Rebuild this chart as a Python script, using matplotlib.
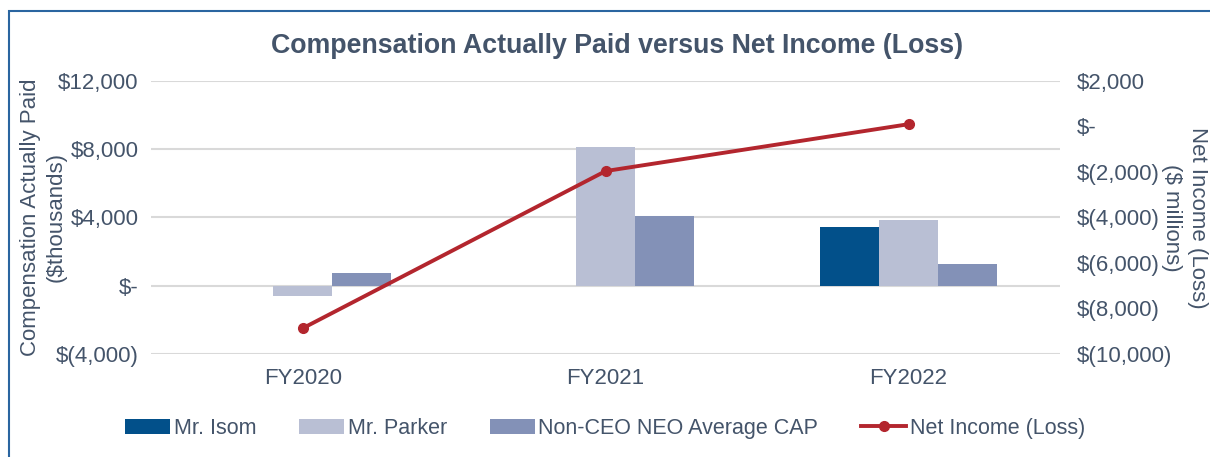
import numpy as np
import matplotlib
matplotlib.use("Agg")
import matplotlib.pyplot as plt
from matplotlib.patches import Rectangle
from matplotlib.ticker import FuncFormatter

plt.rcParams["font.family"] = ["Liberation Sans", "DejaVu Sans"]

# data
years = ["FY2020", "FY2021", "FY2022"]
isom = [np.nan, np.nan, 3470]          # $ thousands
parker = [-620, 8150, 3850]             # $ thousands
neo_avg = [720, 4100, 1270]             # $ thousands
net_income = [-8870, -1960, 100]        # $ millions

text_col = "#44546A"
c_isom = "#02508A"
c_parker = "#B9BFD4"
c_neo = "#8391B7"
c_line = "#B3262E"


def money(v, pos=None):
    if abs(v) < 1e-9:
        return "$-"
    if v < 0:
        return "$({:,.0f})".format(-v)
    return "${:,.0f}".format(v)


fig = plt.figure(figsize=(12.1, 4.57), dpi=100)
ax = fig.add_axes([0.125, 0.2254, 0.751, 0.5974])

x = np.arange(len(years))
w = 0.195
ax.bar(x - w, isom, w, color=c_isom, label="Mr. Isom", zorder=2)
ax.bar(x, parker, w, color=c_parker, label="Mr. Parker", zorder=2)
ax.bar(x + w, neo_avg, w, color=c_neo, label="Non-CEO NEO Average CAP", zorder=2)

ax.set_xlim(-0.5, 2.5)
ax.set_ylim(-4000, 12000)
ax.set_yticks(np.arange(-4000, 12001, 4000))
ax.yaxis.set_major_formatter(FuncFormatter(money))
ax.set_xticks(x)
ax.set_xticklabels(years)
ax.grid(axis="y", color="#D9D9D9", linewidth=1.5, zorder=0)
ax.set_axisbelow(True)
for s in ax.spines.values():
    s.set_visible(False)
ax.tick_params(axis="both", length=0, labelsize=16, colors=text_col)
ax.tick_params(axis="y", pad=9)
ax.tick_params(axis="x", pad=10)
ax.set_ylabel("Compensation Actually Paid\n($thousands)", fontsize=16,
              color=text_col, linespacing=1.3, va="center")
ax.yaxis.set_label_coords(-0.119, 0.5)

ax2 = ax.twinx()
ax2.plot(x, net_income, color=c_line, linewidth=2.8, marker="o", markersize=7,
         label="Net Income (Loss)", zorder=3)
ax2.set_ylim(-10000, 2000)
ax2.set_yticks(np.arange(-10000, 2001, 2000))
ax2.yaxis.set_major_formatter(FuncFormatter(money))
for s in ax2.spines.values():
    s.set_visible(False)
ax2.tick_params(axis="y", length=0, labelsize=16, colors=text_col, pad=12)
ax2.set_ylabel("Net Income (Loss)\n($ millions)", fontsize=16, color=text_col,
               rotation=270, linespacing=1.3, va="center")
ax2.yaxis.set_label_coords(1.137, 0.5)

ax.set_title("Compensation Actually Paid versus Net Income (Loss)",
             fontsize=19.3, fontweight="bold", color=text_col, pad=20, x=0.513)

h1, l1 = ax.get_legend_handles_labels()
h2, l2 = ax2.get_legend_handles_labels()
leg = fig.legend(h1 + h2, l1 + l2, loc="center", bbox_to_anchor=(0.5, 0.063),
                 ncol=4, frameon=False, fontsize=15.5, handlelength=2.1,
                 handletextpad=0.15, columnspacing=2.0)
for t in leg.get_texts():
    t.set_color(text_col)

fig.patches.append(Rectangle((9 / 1210, -0.1), 1.2, 0.976 + 0.1,
                             transform=fig.transFigure, fill=False,
                             edgecolor="#2A65A0", linewidth=1.5))

fig.savefig("out.png", dpi=100)
